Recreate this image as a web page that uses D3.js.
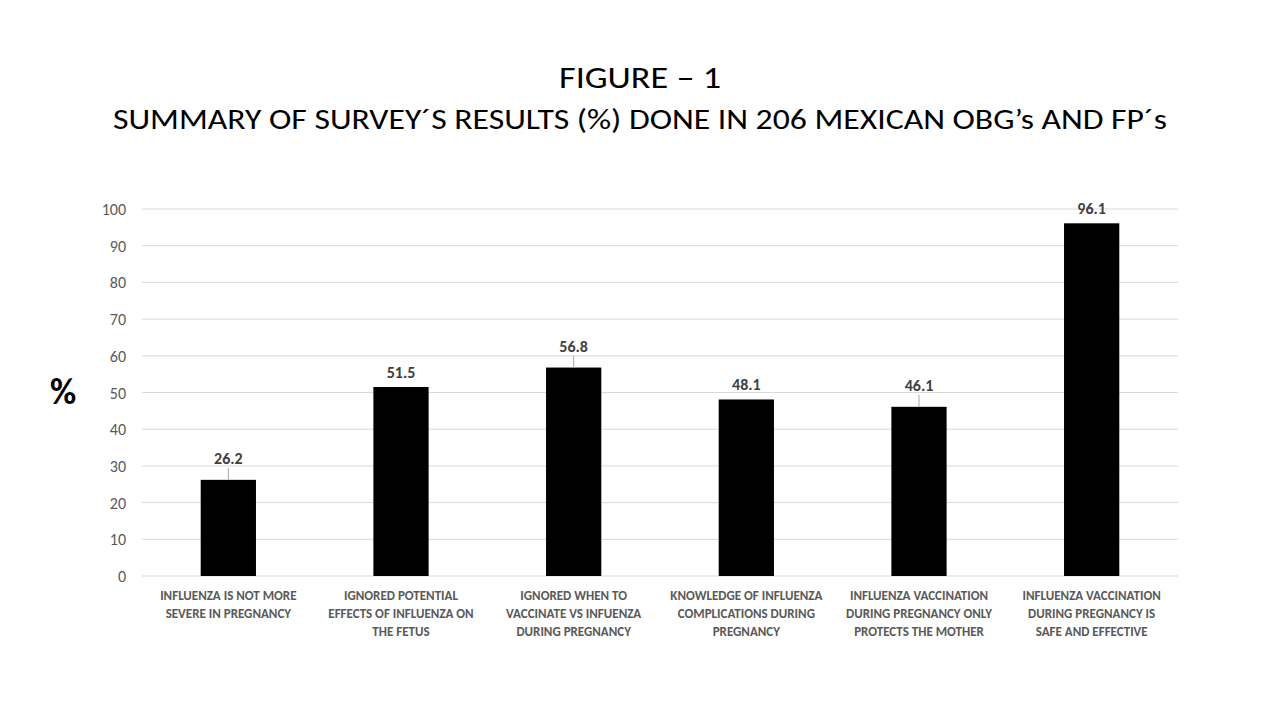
<!DOCTYPE html>
<html>
<head>
<meta charset="utf-8">
<title>Figure 1</title>
<style>
  body { margin: 0; background: #fff; }
  text { font-family: Carlito, "Liberation Sans Narrow", "Liberation Sans", Arial, sans-serif; }
</style>
</head>
<body>
<div class="plot_container"></div>
<script src="https://cdn.jsdelivr.net/npm/d3@7"></script>
<script>
var categories = [
  ["INFLUENZA IS NOT MORE", "SEVERE IN PREGNANCY"],
  ["IGNORED POTENTIAL", "EFFECTS OF INFLUENZA ON", "THE FETUS"],
  ["IGNORED WHEN TO", "VACCINATE VS INFUENZA", "DURING PREGNANCY"],
  ["KNOWLEDGE OF INFLUENZA", "COMPLICATIONS DURING", "PREGNANCY"],
  ["INFLUENZA VACCINATION", "DURING PREGNANCY ONLY", "PROTECTS THE MOTHER"],
  ["INFLUENZA VACCINATION", "DURING PREGNANCY IS", "SAFE AND EFFECTIVE"]
];
var values = [26.2, 51.5, 56.8, 48.1, 46.1, 96.1];
var hasLeader = [true, false, true, false, true, false];
var yTicks = [0, 10, 20, 30, 40, 50, 60, 70, 80, 90, 100];

var width = 1280, height = 720;
var plotLeft = 142, plotRight = 1178, plotTop = 209, plotBottom = 576;

var svg = d3.select(".plot_container").append("svg")
  .attr("width", width).attr("height", height);

svg.append("text").attr("x", 640).attr("y", 88)
  .attr("text-anchor", "middle").style("font-size", "30px").style("fill", "#000")
  .attr("textLength", 162).attr("lengthAdjust", "spacingAndGlyphs")
  .text("FIGURE \u2013 1");
svg.append("text").attr("x", 640).attr("y", 129)
  .attr("text-anchor", "middle").style("font-size", "29px").style("fill", "#000")
  .attr("textLength", 1054).attr("lengthAdjust", "spacingAndGlyphs")
  .text("SUMMARY OF SURVEY\u00b4S RESULTS (%) DONE IN 206 MEXICAN OBG\u2019s AND FP\u00b4s");

var x = d3.scaleBand().domain(d3.range(values.length)).range([plotLeft, plotRight]).paddingInner(0.68).paddingOuter(0.34);
var y = d3.scaleLinear().domain([0, 100]).range([plotBottom, plotTop]);

// gridlines
svg.append("g").selectAll("line").data(yTicks).enter().append("line")
  .attr("x1", plotLeft).attr("x2", plotRight)
  .attr("y1", function(d){ return y(d); }).attr("y2", function(d){ return y(d); })
  .style("stroke", "#d9d9d9").style("stroke-width", 1);

svg.append("g").selectAll("text").data(yTicks).enter().append("text")
  .attr("x", 126).attr("y", function(d){ return y(d) + 6; })
  .attr("text-anchor", "end").style("font-size", "16px").style("fill", "#595959")
  .text(function(d){ return d; });

svg.append("text").attr("x", 63).attr("y", 404).attr("text-anchor", "middle")
  .style("font-size", "36px").style("font-weight", "bold").style("fill", "#000").text("%");

svg.append("g").selectAll("rect").data(values).enter().append("rect")
  .attr("x", function(d, i){ return x(i); })
  .attr("width", x.bandwidth())
  .attr("y", function(d){ return y(d); })
  .attr("height", function(d){ return y(0) - y(d); })
  .style("fill", "#000");

svg.append("g").selectAll("line").data(values).enter().filter(function(d, i){ return hasLeader[i]; })
  .append("line")
  .attr("x1", function(d){ return x(values.indexOf(d)) + x.bandwidth() / 2; })
  .attr("x2", function(d){ return x(values.indexOf(d)) + x.bandwidth() / 2; })
  .attr("y1", function(d){ return y(d) - 12; })
  .attr("y2", function(d){ return y(d); })
  .style("stroke", "#a6a6a6").style("stroke-width", 1);

svg.append("g").selectAll("text").data(values).enter().append("text")
  .attr("x", function(d, i){ return x(i) + x.bandwidth() / 2; })
  .attr("y", function(d, i){ return y(d) - (hasLeader[i] ? 16 : 9); })
  .attr("text-anchor", "middle").style("font-size", "16px").style("font-weight", "bold")
  .style("fill", "#404040").text(function(d){ return d.toFixed(1); });

var cat = svg.append("g").selectAll("text").data(categories).enter().append("text")
  .attr("text-anchor", "middle").style("font-size", "13px").style("font-weight", "bold")
  .style("fill", "#595959");
cat.each(function(lines, i){
  var t = d3.select(this);
  lines.forEach(function(l, j){
    t.append("tspan").attr("x", x(i) + x.bandwidth() / 2).attr("y", 600 + j * 18).text(l);
  });
});
</script>
</body>
</html>
